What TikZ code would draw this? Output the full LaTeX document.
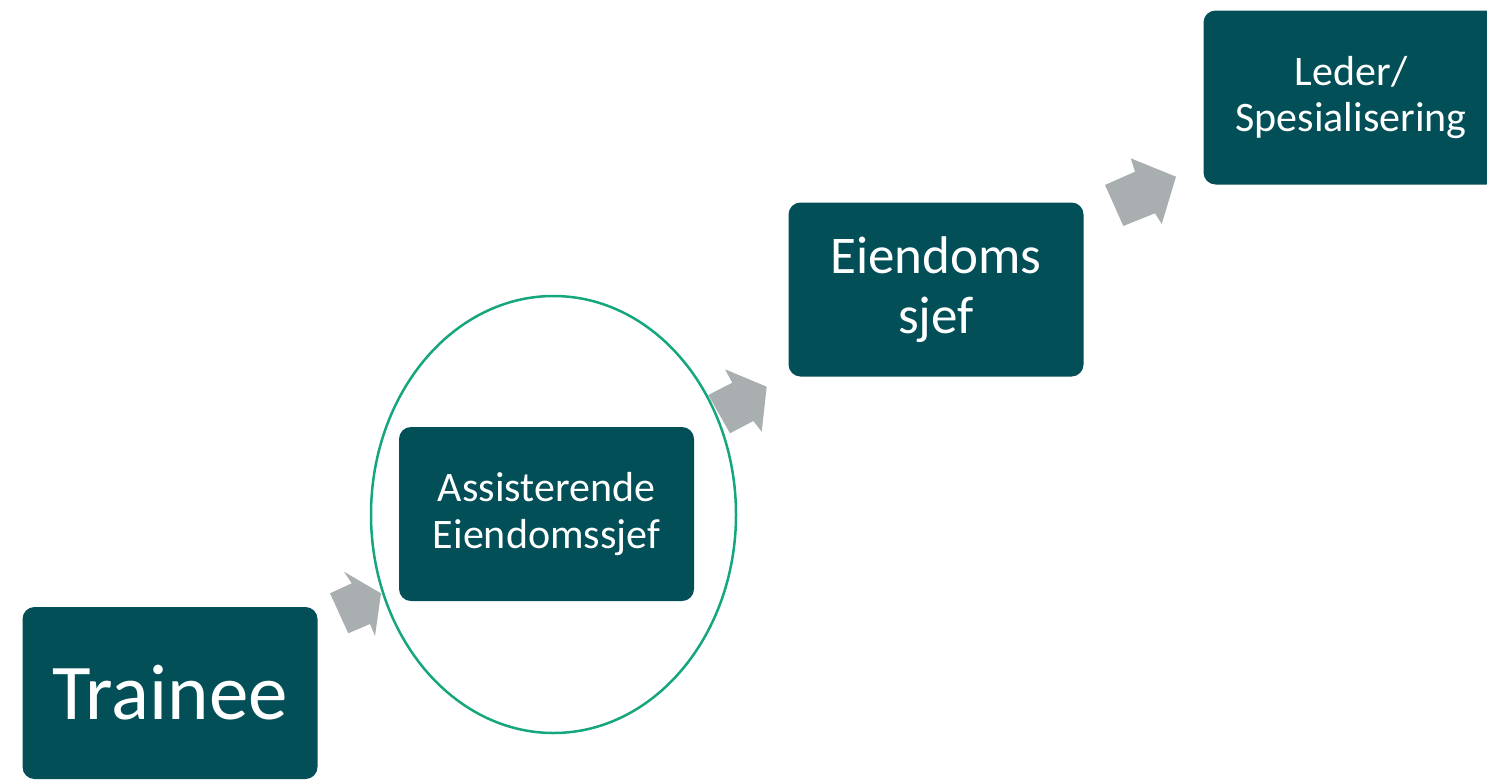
\documentclass[tikz,border=0pt]{standalone}
\usepackage{fontspec}
\setmainfont{Carlito}
\usetikzlibrary{shapes.geometric}
\definecolor{stepteal}{RGB}{2,79,88}
\definecolor{arrowgrey}{RGB}{169,174,177}
\definecolor{ringgreen}{RGB}{22,166,126}
\tikzset{every picture/.style={line width=0.75pt}}
\tikzset{stepbox/.style={fill=stepteal, rounded corners=12pt, text=white, align=center, inner sep=0pt, minimum width=295pt, minimum height=174pt},
  steparrow/.style={fill=arrowgrey, draw=none},
  ring/.style={draw=ringgreen, line width=2.5pt, ellipse, inner sep=0pt, outer sep=0pt}}

\begin{document}
\begin{tikzpicture}[x=1pt,y=1pt,yscale=-1]
\useasboundingbox (0,0) rectangle (1487,779);
\clip (0,0) rectangle (1487,779);

%Shape: Steps
\node[stepbox, minimum height=172pt, font=\fontsize{79}{82}\selectfont] (trainee) at (170,693) {Trainee};
\node[stepbox, font=\fontsize{42}{47}\selectfont] (assist) at (546.5,514) {Assisterende\\Eiendomssjef};
\node[stepbox, font=\fontsize{53}{60}\selectfont] (sjef) at (936,289.5) {Eiendoms\\sjef};
\node[stepbox, font=\fontsize{42}{46}\selectfont] (leder) at (1351,97.5) {Leder/\\Spesialisering};

%Shape: Arrow trainee -> assist
\fill[steparrow] (330,593.3) -- (351.7,583.3) -- (344,571.7) -- (381,593.3) -- (375,636) -- (370,624) -- (348.3,633.3) -- cycle;
%Shape: Arrow assist -> sjef
\fill[steparrow] (708.3,395) -- (732.3,382.7) -- (725,369.3) -- (766.7,386.7) -- (761.7,431.7) -- (753.3,421) -- (730,433.3) -- cycle;
%Shape: Arrow sjef -> leder
\fill[steparrow] (1105,185) -- (1135,171.7) -- (1130.7,158.3) -- (1176,176.7) -- (1161.7,224) -- (1155,213.3) -- (1123.3,226) -- cycle;

%Shape: Ellipse round the current step
\node[ring, minimum width=365pt, minimum height=437pt] (focus) at (553.5,514.5) {};

\end{tikzpicture}
\end{document}
